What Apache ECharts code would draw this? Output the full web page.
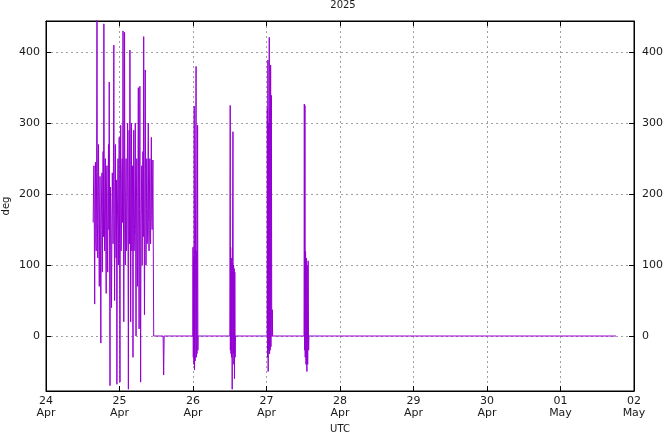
<!DOCTYPE html>
<html>
<head>
<meta charset="utf-8">
<script src="https://cdn.jsdelivr.net/npm/echarts@6/dist/echarts.min.js"></script>
<style>html,body{margin:0;padding:0;background:#fff}#c{width:668px;height:432px}</style>
</head>
<body>
<div id="c"></div>
<script>
// ---- data ----
const titleText = '2025';
const startDate = Date.UTC(2025, 3, 24);
const endDate = Date.UTC(2025, 4, 2);
const yTicks = [0, 100, 200, 300, 400];
const yMin = -77.5;
const yMax = 444;
const monthNames = ['Jan','Feb','Mar','Apr','May','Jun','Jul','Aug','Sep','Oct','Nov','Dec'];

// dense burst: hours since 24 Apr 00:00 UTC, regular sampling
const burst1Start = 15.4;
const burst1Step = 0.125;
const burst1Values = [160, 210, 240, 150, 45, 200, 245, 130, 120, 230,
  460, 160, 110, 210, 270, 140, 70, 190, 225, 120,
  -10, 150, 200, 230, 90, 180, 260, 140, 440, 210,
  120, 170, 250, 140, 60, 210, 240, 130, 90, 200,
  270, 150, 358, 120, -70, 210, 180, 110, 40, 160,
  230, 200, 130, 240, 410, 170, 50, 190, 270, 140,
  110, 220, -68, 150, 200, 250, 100, 180, 280, 130,
  -65, 200, 297, 120, 150, 230, 250, 160, 430, 210,
  20, 180, 428, 140, 100, 200, 250, 120, 130, 220,
  300, 150, -75, 200, 290, 130, 403, 240, 20, 170,
  300, 120, 180, 240, -30, 160, 290, 120, 150, 210,
  300, 140, 0, 190, 250, 130, 70, 220, 350, 150,
  10, 180, 352, 120, -65, 160, 200, 240, 100, 190,
  260, 140, 422, 200, 30, 160, 375, 230, 100, 180,
  250, 130, 140, 210, 300, 160, 120, 200, 250, 140,
  130, 220, 280, 170, 150, 200, 248];
const dropHours = [35.15, 35.17];
const dropValues = [248, 0];

const burst2Hours = [38.25, 38.32, 38.42, 38.5, 38.58];
const burst2Values = [0, -27, -55, -27, 0];

const burst3Hours = [47.95, 48.0, 48.1, 48.2, 48.3, 48.4, 48.5, 48.6, 48.7, 48.8, 49.0, 49.1, 49.2, 49.3, 49.4, 49.5, 49.6, 49.65];
const burst3Values = [0, 125, -30, 110, -40, 324, -48, 120, -35, 115, 380, -30, 120, -25, 110, 297, -20, 0];

const burst4Hours = [60.05, 60.15, 60.2, 60.3, 60.4, 60.5, 60.6, 60.7, 60.8, 60.9, 61.05, 61.15, 61.25, 61.35, 61.45, 61.55, 61.65, 61.75, 61.85];
const burst4Values = [0, 325, -20, 125, -25, 110, -30, 100, -75, 105, 288, -25, 100, -40, 95, -60, 90, -30, 0];

const burst5Hours = [72.2, 72.27, 72.35, 72.45, 72.55, 72.65, 72.75, 72.9, 73.0, 73.1, 73.2, 73.35, 73.45, 73.6, 73.7, 73.8, 73.9, 74.0];
const burst5Values = [0, 321, -30, 389, -50, 300, -20, 421, -25, 320, -20, 382, -15, 339, 37, 0, 37, 0];

const burst6Hours = [84.25, 84.35, 84.45, 84.55, 84.65, 84.75, 84.9, 85.0, 85.1, 85.2, 85.3, 85.45, 85.6, 85.75, 85.85];
const burst6Values = [0, 327, -20, 325, -30, 119, -40, 110, -35, -50, 100, -40, 106, -20, 0];

const tailHours = [186.1];
const tailValues = [0];

// ---- build ----
const HOUR = 3600000;
const DAY = 86400000;
const pts = [];
burst1Values.forEach((v, i) => pts.push([startDate + (burst1Start + i * burst1Step) * HOUR, v]));
function addPairs(hs, vs) { hs.forEach((h, i) => pts.push([startDate + h * HOUR, vs[i]])); }
addPairs(dropHours, dropValues);
addPairs(burst2Hours, burst2Values);
addPairs(burst3Hours, burst3Values);
addPairs(burst4Hours, burst4Values);
addPairs(burst5Hours, burst5Values);
addPairs(burst6Hours, burst6Values);
addPairs(tailHours, tailValues);

const FONT = 'DejaVu Sans';
const txt = '#1a1a1a';
const gridLine = { show: true, lineStyle: { color: '#a0a0a0', type: [2, 3], width: 1 } };
function dayFmt(v) {
  const d = new Date(v);
  return String(d.getUTCDate()).padStart(2, '0') + '\n' + monthNames[d.getUTCMonth()];
}
const xCommon = { type: 'value', min: startDate, max: endDate, interval: DAY,
  axisLine: { onZero: false, lineStyle: { color: '#000', width: 1 } },
  axisTick: { inside: true, length: 5, lineStyle: { color: '#000' } } };
const yCommon = { type: 'value', min: yMin, max: yMax,
  axisLine: { show: true, onZero: false, lineStyle: { color: '#000', width: 1 } },
  axisTick: { show: true, inside: true, length: 5, customValues: yTicks, lineStyle: { color: '#000' } } };

const chart = echarts.init(document.getElementById('c'), null, { renderer: 'canvas' });
chart.setOption({
  animation: false,
  backgroundColor: '#fff',
  title: { text: titleText, left: 343, top: 0, padding: 0, textAlign: 'center',
    textStyle: { fontFamily: FONT, fontSize: 10, fontWeight: 'normal', color: txt } },
  grid: { left: 46, right: 34, top: 21, bottom: 41, show: true, borderColor: '#000', borderWidth: 1,
    containLabel: false, outerBoundsMode: 'none' },
  xAxis: [
    Object.assign({}, xCommon, { position: 'bottom', name: 'UTC', nameLocation: 'middle', nameGap: 33,
      nameMoveOverlap: false,
      nameTextStyle: { fontFamily: FONT, fontSize: 10, color: txt },
      axisLabel: { formatter: dayFmt, fontFamily: FONT, fontSize: 11, color: txt, lineHeight: 12, margin: 4, showMinLabel: true, showMaxLabel: true },
      splitLine: gridLine }),
    Object.assign({}, xCommon, { position: 'top', axisLabel: { show: false }, splitLine: { show: false } })
  ],
  yAxis: [
    Object.assign({}, yCommon, { position: 'left', name: 'deg', nameLocation: 'middle', nameGap: 35, nameRotate: 90,
      nameMoveOverlap: false,
      nameTextStyle: { fontFamily: FONT, fontSize: 10, color: txt },
      axisLabel: { customValues: yTicks, fontFamily: FONT, fontSize: 11, color: txt, margin: 6 },
      splitLine: gridLine }),
    Object.assign({}, yCommon, { position: 'right',
      axisLabel: { customValues: yTicks, fontFamily: FONT, fontSize: 11, color: txt, margin: 8 },
      splitLine: { show: false } })
  ],
  series: [{
    type: 'line', xAxisIndex: 0, yAxisIndex: 0, data: pts, showSymbol: false, symbol: 'none',
    clip: true, lineStyle: { color: '#9400d3', width: 1 }, itemStyle: { color: '#9400d3' }
  }]
});
</script>
</body>
</html>
